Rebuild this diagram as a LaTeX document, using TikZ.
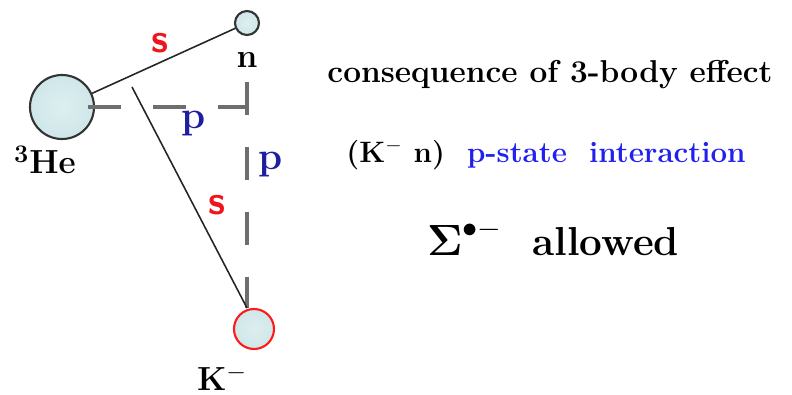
\documentclass[tikz,border=0pt]{standalone}
\usepackage{amsmath}
\usepackage{xcolor}
\usepackage{tikz}
\usetikzlibrary{positioning}

\definecolor{ballfill}{HTML}{CFE7E9}
\definecolor{bondgray}{HTML}{6E6E6E}
\definecolor{sred}{HTML}{F0141E}
\definecolor{pblue}{HTML}{1E1EA0}
\definecolor{txtblue}{HTML}{2020F0}

\begin{document}
\begin{tikzpicture}[
    x=0.02cm, y=-0.02cm,
    ball/.style={circle, draw=black!80, line width=1.2pt, inner color=ballfill!70, outer color=ballfill, inner sep=0pt},
    bond/.style={black!85, line width=0.9pt},
    link/.style={bondgray, line width=2.2pt, dash pattern=on 18.5pt off 18.5pt},
    slabel/.style={text=sred, font=\fontsize{23}{23}\selectfont\sffamily\bfseries},
    plabel/.style={text=pblue, font=\fontsize{22}{22}\selectfont\bfseries},
    tag/.style={font=\fontsize{19}{19}\selectfont\bfseries},
    textline/.style={font=\fontsize{18}{18}\selectfont\bfseries}
]
    \useasboundingbox (0,0) rectangle (792,395);

    % particles
    \node (he) [ball, minimum size=64*0.02cm] at (62,107) {};
    \node (n) [ball, minimum size=24*0.02cm] at (247,23) {};
    \node (k) [ball, draw=red!90, minimum size=40*0.02cm] at (254,329) {};
    \coordinate (hstart) at (88,107);
    \coordinate (corner) at (247,107);
    \coordinate (vstart) at (247,82);
    \coordinate (mid) at (132,87);
    \coordinate (kin) at (247,308);

    % p-wave links
    \draw [link] (hstart) -- (corner);
    \draw [link] (vstart) -- (kin);

    % s-wave links
    \draw [bond] (he) -- (n);
    \draw [bond] (mid) -- (kin);

    % labels
    \node [slabel] at (160,43) {s};
    \node [slabel] at (217,205) {s};
    \node [plabel] at (194,124) {p};
    \node [plabel] at (271,165) {p};
    \node [tag] at (247,60) {n};
    \node [tag] at (45,160) {$^{\mathbf{3}}$He};
    \node [tag] at (222,378) {K$^{-}$};

    % text
    \node (effect) [textline] at (550,75) {consequence of 3-body effect};
    \node (state) [textline, font=\fontsize{16.8}{16.8}\selectfont\bfseries] at (546,155) {(K$^{-}$ n)\ \ \textcolor{txtblue}{p-state\ \ interaction}};
    \node (sigma) [font=\fontsize{23}{23}\selectfont\bfseries] at (553,238) {$\boldsymbol{\Sigma}^{\bullet-}$\ \ allowed};
\end{tikzpicture}
\end{document}
